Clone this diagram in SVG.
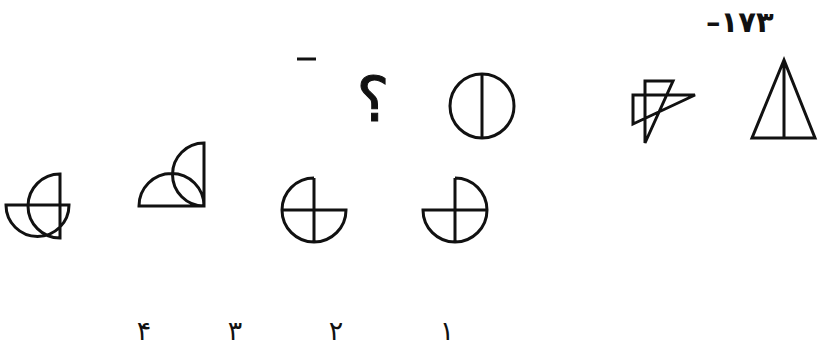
<svg xmlns="http://www.w3.org/2000/svg" width="821" height="347" viewBox="0 0 821 347">
<style>
.s{fill:none;stroke:#111;stroke-width:3;stroke-linejoin:miter}
.t{font-family:"DejaVu Sans",sans-serif;fill:#111}
</style>
<rect width="821" height="347" fill="#fff"/>
<text class="t" x="706" y="32" font-size="29" font-weight="bold">–۱۷۳</text>
<line class="s" x1="297" y1="59" x2="316" y2="59" stroke-width="2"/>
<g id="q1">
<path class="s" d="M784 60 L752 138 L815 138 Z M784 60 L784 138"/>
</g>
<g id="q2">
<path class="s" d="M645 81 L673 81 L645 143 Z M633 95 L695 95 L633 124 Z"/>
</g>
<g id="q3">
<circle class="s" cx="482" cy="106" r="32"/>
<line class="s" x1="482" y1="74" x2="482" y2="138"/>
</g>
<g id="qm"><text class="t" x="373" y="121" font-size="62" text-anchor="middle" stroke="#111" stroke-width="1">؟</text></g>
<g id="opt1">
<path class="s" d="M455 178 A32 32 0 0 1 487 210 A32 32 0 0 1 423 210 L487 210 M455 178 L455 242"/>
</g>
<g id="opt2">
<path class="s" d="M314 178 A32 32 0 0 0 282 210 A32 32 0 0 0 346 210 L282 210 M314 178 L314 242"/>
</g>
<g id="opt3">
<path class="s" d="M139 206 A32.5 32.5 0 0 1 204 206 Z M204 143 L204 206 A31.5 31.5 0 0 1 204 143 Z"/>
</g>
<g id="opt4">
<path class="s" d="M6 205 L69 205 A31.5 31.5 0 0 1 6 205 Z M60 174 L60 238 A32 32 0 0 1 60 174 Z"/>
</g>
<g id="labels" class="t" font-size="27" text-anchor="middle">
<text x="447" y="340">۱</text>
<text x="336" y="340">۲</text>
<text x="235" y="340">۳</text>
<text x="144" y="340">۴</text>
</g>
</svg>
